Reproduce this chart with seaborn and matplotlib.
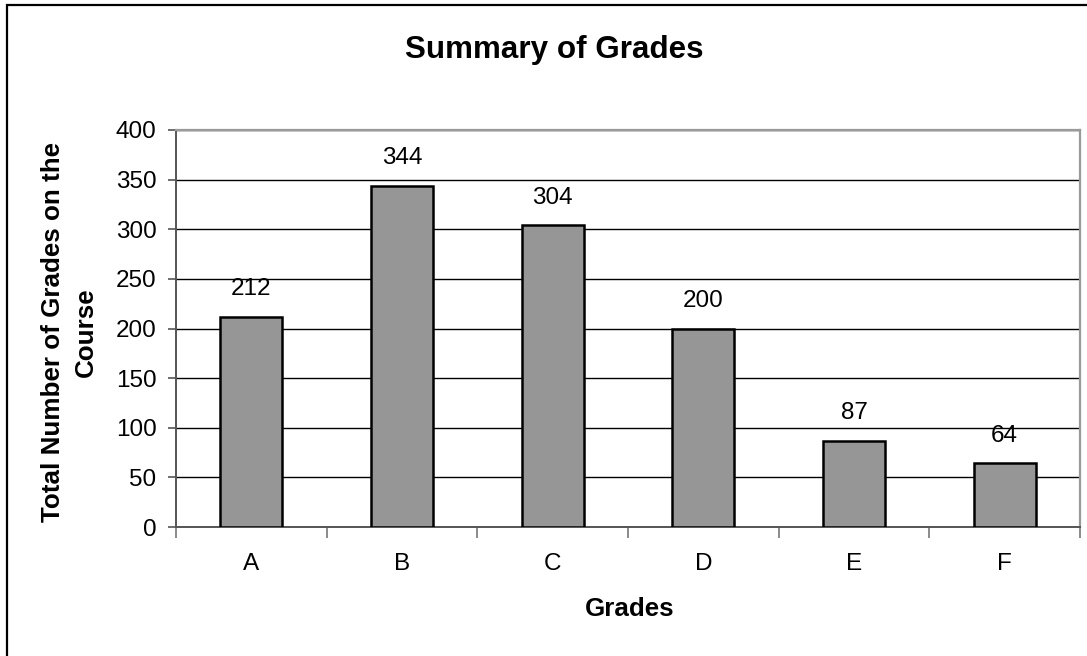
import matplotlib
matplotlib.use("Agg")
import matplotlib.pyplot as plt
import seaborn as sns
import pandas as pd
from matplotlib.patches import Rectangle

# Datos del gráfico
grades = ["A", "B", "C", "D", "E", "F"]
counts = [212, 344, 304, 200, 87, 64]
y_ticks = [0, 50, 100, 150, 200, 250, 300, 350, 400]

df = pd.DataFrame({"Grade": grades, "Count": counts})

sns.set_theme(style="white")
plt.rcParams["font.family"] = ["Liberation Sans", "DejaVu Sans"]
plt.rcParams["text.color"] = "black"
plt.rcParams["axes.labelcolor"] = "black"
plt.rcParams["xtick.color"] = "black"
plt.rcParams["ytick.color"] = "black"

W, H = 1087, 656
fig = plt.figure(figsize=(W / 100, H / 100), dpi=100)
ax = fig.add_axes([176 / W, 1 - 527 / H, (1080 - 176) / W, (527 - 130) / H])

sns.barplot(data=df, x="Grade", y="Count", color="#969696", saturation=1,
            width=0.41, edgecolor="black", linewidth=1.8, ax=ax, zorder=3)

ax.set_ylim(0, 400)
ax.set_xlim(-0.5, len(grades) - 0.5)
ax.set_yticks(y_ticks)
ax.yaxis.grid(True, color="black", linewidth=1.0, zorder=0)
ax.set_axisbelow(True)

# Etiquetas de valores sobre las barras
for i, v in enumerate(counts):
    ax.annotate(str(v), (i, v), xytext=(0, 12), textcoords="offset points",
                ha="center", va="bottom", fontsize=17.5, color="black")

# Bordes del área de trazado
for side in ["top", "right"]:
    ax.spines[side].set_color("#9a9a9a")
    ax.spines[side].set_linewidth(1.6)
for side in ["left", "bottom"]:
    ax.spines[side].set_color("#555555")
    ax.spines[side].set_linewidth(1.4)

ax.tick_params(axis="y", length=6, width=1.2, color="#555555", labelsize=17.5,
               left=True, pad=8)
ax.tick_params(axis="x", which="major", length=0, labelsize=17.5, pad=19)
ax.set_xticks([i - 0.5 for i in range(len(grades) + 1)], minor=True)
ax.tick_params(axis="x", which="minor", length=8, width=1.2, color="#777777",
               bottom=True)

ax.set_xlabel("Grades", fontsize=18.7, fontweight="bold")
ax.xaxis.set_label_coords((630 - 176) / 904, -0.176)
ax.set_ylabel("Total Number of Grades on the\nCourse", fontsize=18.7,
              fontweight="bold", linespacing=1.45)
ax.yaxis.set_label_coords((98 - 176) / 904, 0.49)

fig.text(554 / W, 1 - 50 / H, "Summary of Grades", ha="center", va="center",
         fontsize=22.6, fontweight="bold")

# Marco exterior del gráfico
fig.patches.append(Rectangle((7 / W, -0.05), 1.1, 1 - 5 / H + 0.05,
                             transform=fig.transFigure, fill=False,
                             edgecolor="black", linewidth=1.6))

fig.savefig("out.png", dpi=100)
